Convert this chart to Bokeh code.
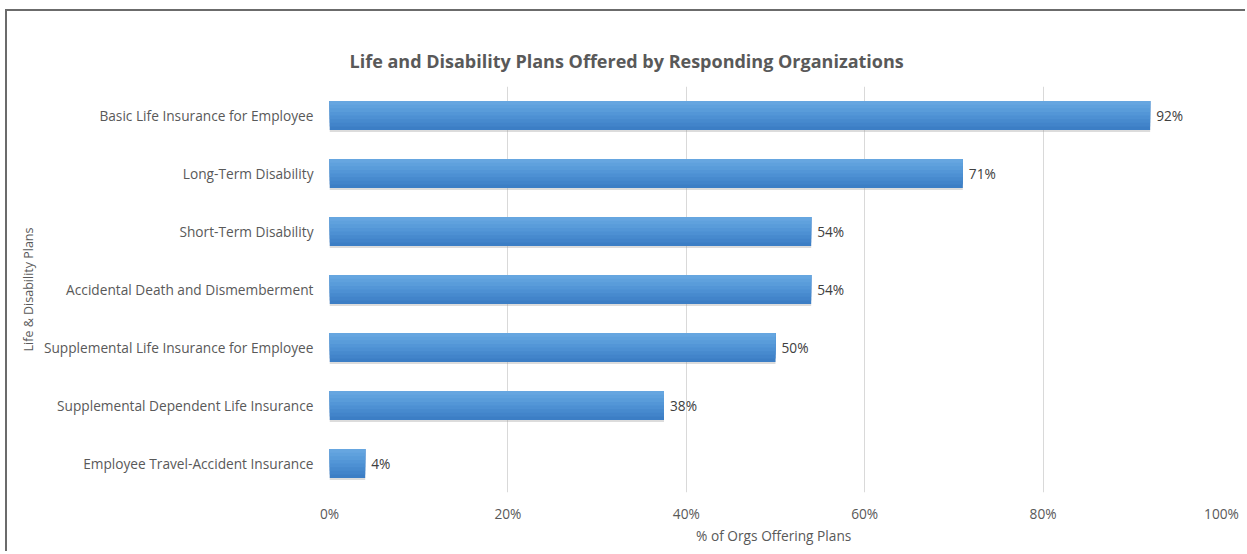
from bokeh.plotting import figure
from bokeh.layouts import column
from bokeh.models import ColumnDataSource, FactorRange, Range1d, LabelSet, FixedTicker
from bokeh.core.properties import value
from bokeh.transform import dodge
from bokeh.embed import file_html
from bokeh.resources import INLINE

# ---- data ----
categories = [
    "Basic Life Insurance for Employee",
    "Long-Term Disability",
    "Short-Term Disability",
    "Accidental Death and Dismemberment",
    "Supplemental Life Insurance for Employee",
    "Supplemental Dependent Life Insurance",
    "Employee Travel-Accident Insurance",
]
values = [92, 71, 54, 54, 50, 37.5, 4]
value_labels = ["92%", "71%", "54%", "54%", "50%", "38%", "4%"]
x_ticks = [0, 20, 40, 60, 80, 100]
x_tick_labels = ["0%", "20%", "40%", "60%", "80%", "100%"]

title_text = "Life and Disability Plans Offered by Responding Organizations"
x_title = "% of Orgs Offering  Plans"
y_title = "Life & Disability Plans"

FONT = "Open Sans"
TXT = "#595959"
FS = "13.7px"

source = ColumnDataSource(dict(cat=categories, val=values, lab=value_labels))

p = figure(
    frame_width=892, frame_height=406,
    y_range=FactorRange(factors=list(reversed(categories))),
    x_range=Range1d(0, 100),
    output_backend="svg", toolbar_location=None,
    min_border_left=322, min_border_right=24,
    min_border_top=75, min_border_bottom=59,
)
p.outline_line_color = None
p.background_fill_color = "white"
p.border_fill_color = "white"

# shadow
p.hbar(y=dodge("cat", -0.035, range=p.y_range), right="val", left=0, height=0.5,
       source=source, fill_color="#9a9a9a", fill_alpha=0.35, line_color=None)

# gradient bars (layers anchored at the top)
BAR_H = 0.5
grad = ["#3c7ec5", "#4284ca", "#478ace", "#4d90d3", "#5396d7", "#599cda", "#5fa1dd", "#66a6e0"]
N = len(grad)
for k, col in enumerate(grad):
    hk = BAR_H * (N - k) / N
    off = BAR_H / 2 - hk / 2
    p.hbar(y=dodge("cat", off, range=p.y_range), right="val", left=0, height=hk,
           source=source, fill_color=col, line_color=None)

labels = LabelSet(x="val", y="cat", text="lab", source=source, x_offset=6,
                  text_baseline="middle", text_font=value(FONT), text_font_size=FS,
                  text_color="#404040")
p.add_layout(labels)

# title
p.title.text = title_text
p.title.align = "left"
p.title.offset = 20
p.title.text_font = FONT
p.title.text_font_size = "18px"
p.title.text_font_style = "bold"
p.title.text_color = TXT
p.title.standoff = 27

# x axis
p.xaxis.ticker = FixedTicker(ticks=x_ticks)
p.xaxis.major_label_overrides = {t: l for t, l in zip(x_ticks, x_tick_labels)}
p.xaxis.axis_line_color = None
p.xaxis.major_tick_line_color = None
p.xaxis.minor_tick_line_color = None
p.xaxis.major_tick_out = 0
p.xaxis.major_tick_in = 0
p.xaxis.minor_tick_out = 0
p.xaxis.major_label_standoff = 11
p.xaxis.major_label_text_font = FONT
p.xaxis.major_label_text_font_size = FS
p.xaxis.major_label_text_color = TXT
p.xaxis.axis_label = x_title
p.xaxis.axis_label_standoff = 0
p.xaxis.axis_label_text_font = FONT
p.xaxis.axis_label_text_font_size = FS
p.xaxis.axis_label_text_font_style = "normal"
p.xaxis.axis_label_text_color = TXT

# y axis
p.yaxis.axis_line_color = None
p.yaxis.major_tick_line_color = None
p.yaxis.minor_tick_line_color = None
p.yaxis.major_tick_out = 0
p.yaxis.major_tick_in = 0
p.yaxis.minor_tick_out = 0
p.yaxis.major_label_standoff = 16
p.yaxis.major_label_text_font = FONT
p.yaxis.major_label_text_font_size = FS
p.yaxis.major_label_text_color = TXT
p.yaxis.axis_label = y_title
p.yaxis.axis_label_standoff = 4
p.yaxis.axis_label_text_font = FONT
p.yaxis.axis_label_text_font_size = "12.5px"
p.yaxis.axis_label_text_font_style = "normal"
p.yaxis.axis_label_text_color = TXT

p.xgrid.grid_line_color = "#d9d9d9"
p.ygrid.grid_line_color = None

layout = column(p, styles={
    "margin-top": "9px", "margin-left": "5px",
    "border-top": "2px solid #6b6b6b", "border-left": "2px solid #6b6b6b",
})

open("out.html", "w").write(file_html(layout, INLINE))
